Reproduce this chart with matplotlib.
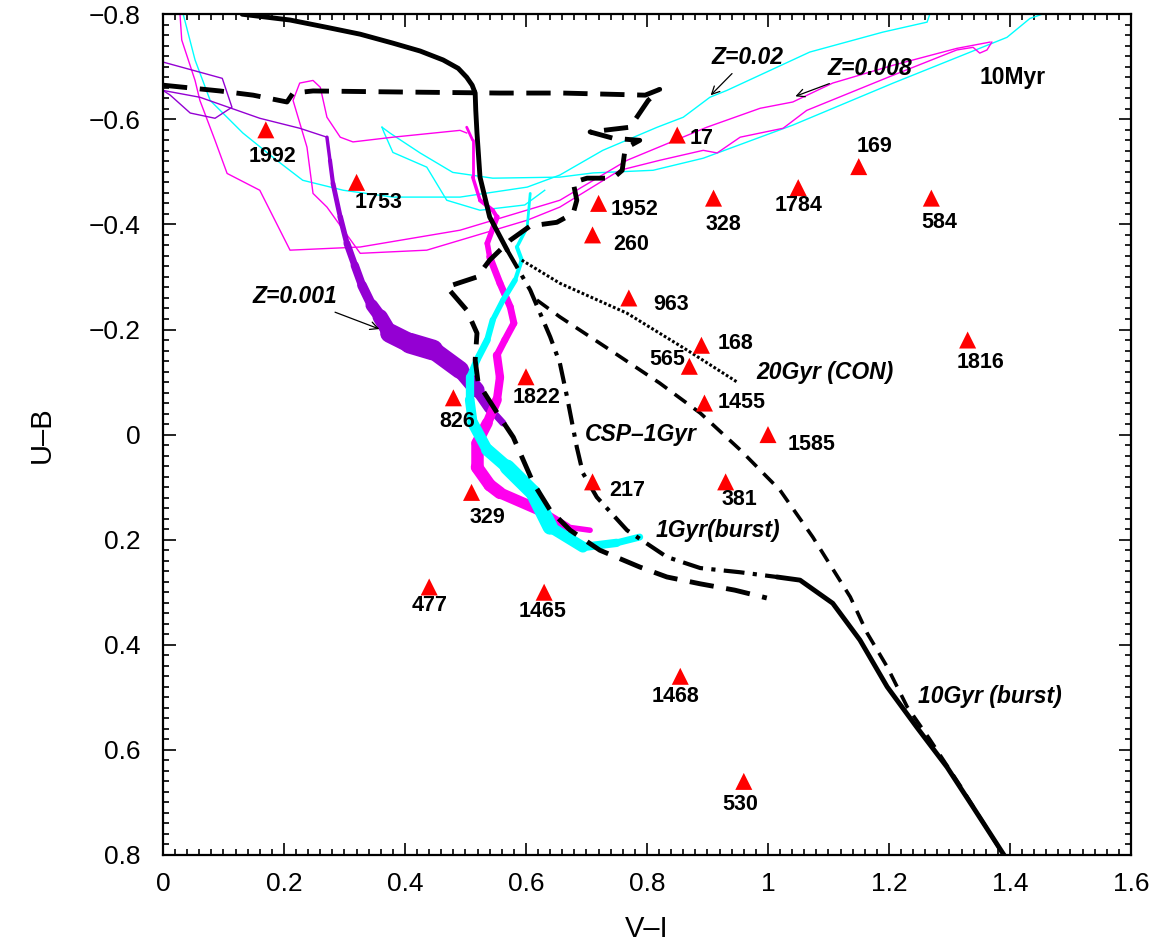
import numpy as np
import matplotlib
matplotlib.use('Agg')
import matplotlib.pyplot as plt
from matplotlib.collections import LineCollection
from matplotlib.ticker import MultipleLocator

plt.rcParams['font.family'] = ['Liberation Sans', 'DejaVu Sans']

# --- clusters (V-I, U-B) ---
cl_names = ['1992', '1753', '17', '1952', '260', '328', '1784', '169', '584',
            '963', '168', '565', '1455', '1585', '1816', '1822', '826', '217',
            '381', '329', '477', '1465', '1468', '530']
cl_vi = [0.17, 0.32, 0.85, 0.72, 0.71, 0.91, 1.05, 1.15, 1.27,
         0.77, 0.89, 0.87, 0.895, 1.0, 1.33, 0.60, 0.48, 0.71,
         0.93, 0.51, 0.44, 0.63, 0.855, 0.96]
cl_ub = [-0.58, -0.48, -0.57, -0.44, -0.38, -0.45, -0.47, -0.51, -0.45,
         -0.26, -0.17, -0.13, -0.06, 0.0, -0.18, -0.11, -0.07, 0.09,
         0.09, 0.11, 0.29, 0.30, 0.46, 0.66]
# label offsets in pixels (dx right, dy down)
lab_off = {'1992': (7, 27), '1753': (22, 20), '17': (24, 3), '1952': (36, 6),
           '260': (39, 10), '328': (10, 26), '1784': (0, 18), '169': (16, -20),
           '584': (8, 24), '963': (42, 7), '168': (34, -2), '565': (-22, -7),
           '1455': (37, -1), '1585': (44, 10), '1816': (13, 22), '1822': (11, 21),
           '826': (4, 24), '217': (35, 9), '381': (14, 18), '329': (16, 25),
           '477': (0, 19), '1465': (-2, 19), '1468': (-5, 20), '530': (-4, 23)}

# --- black model tracks ---
burst_top_x = [0.131, 0.210, 0.271, 0.326, 0.380, 0.425, 0.463, 0.488, 0.502, 0.511,
               0.516, 0.517, 0.519, 0.524, 0.540, 0.569]
burst_top_y = [-0.80, -0.789, -0.775, -0.762, -0.745, -0.730, -0.713, -0.697, -0.680,
               -0.665, -0.650, -0.617, -0.574, -0.490, -0.414, -0.351]
burst_mid_x = [0.569, 0.607, 0.640, 0.656, 0.668, 0.684, 0.694, 0.717, 0.767, 0.833,
               0.888, 0.954, 1.015]
burst_mid_y = [-0.351, -0.275, -0.186, -0.136, -0.071, 0.024, 0.073, 0.119, 0.182, 0.233,
               0.254, 0.262, 0.271]
burst_bot_x = [1.015, 1.053, 1.107, 1.152, 1.197, 1.246, 1.296, 1.339, 1.39]
burst_bot_y = [0.271, 0.277, 0.321, 0.391, 0.480, 0.557, 0.633, 0.709, 0.80]

g20_x = [0.618, 0.656, 0.739, 0.821, 0.888, 0.954, 1.020, 1.074, 1.136, 1.164,
         1.197, 1.230, 1.268, 1.317, 1.387]
g20_y = [-0.256, -0.224, -0.161, -0.098, -0.041, 0.029, 0.106, 0.195, 0.309, 0.378,
         0.442, 0.518, 0.581, 0.667, 0.796]

con_x = [0.593, 0.656, 0.767, 0.866, 0.949]
con_y = [-0.332, -0.288, -0.231, -0.161, -0.100]

csp_x = [0.0, 0.094, 0.149, 0.205, 0.215, 0.248, 0.392, 0.557, 0.661, 0.797, 0.821,
         0.802, 0.772, 0.706, 0.744, 0.788, 0.764, 0.759, 0.744, 0.701, 0.678, 0.684,
         0.678, 0.651, 0.607, 0.574, 0.540, 0.519, 0.469, 0.502, 0.519, 0.516, 0.521,
         0.557, 0.579, 0.612, 0.640, 0.673, 0.722, 0.788, 0.833, 0.888, 0.945, 0.998]
csp_y = [-0.665, -0.654, -0.646, -0.633, -0.650, -0.654, -0.652, -0.650, -0.650, -0.646,
         -0.657, -0.636, -0.585, -0.576, -0.564, -0.560, -0.545, -0.503, -0.488, -0.488,
         -0.480, -0.446, -0.421, -0.404, -0.397, -0.370, -0.332, -0.300, -0.281, -0.237,
         -0.193, -0.142, -0.098, -0.033, 0.005, 0.092, 0.144, 0.182, 0.220, 0.252, 0.271,
         0.284, 0.296, 0.311]

# --- thin coloured tracks ---
cy_up_x = [0.033, 0.053, 0.078, 0.132, 0.188, 0.231, 0.298, 0.380, 0.491, 0.602, 0.656,
           0.727, 0.817, 0.860, 0.904, 0.932, 1.069, 1.190, 1.263, 1.268]
cy_up_y = [-0.802, -0.713, -0.636, -0.574, -0.522, -0.484, -0.465, -0.452, -0.452, -0.471,
           -0.494, -0.541, -0.585, -0.604, -0.642, -0.655, -0.728, -0.766, -0.785, -0.802]
cy_lo_x = [0.362, 0.375, 0.425, 0.479, 0.545, 0.656, 0.711, 0.810, 0.893, 1.041, 1.207,
           1.395, 1.433, 1.458]
cy_lo_y = [-0.585, -0.574, -0.536, -0.499, -0.488, -0.490, -0.498, -0.503, -0.526, -0.589,
           -0.669, -0.756, -0.792, -0.802]
cy_mid_x = [0.362, 0.365, 0.380, 0.436, 0.469, 0.524, 0.598, 0.631]
cy_mid_y = [-0.585, -0.576, -0.537, -0.509, -0.446, -0.427, -0.437, -0.465]

mg_a_x = [0.028, 0.031, 0.053, 0.061, 0.086, 0.106, 0.160, 0.210, 0.326, 0.491, 0.656,
          0.767, 0.899, 0.987, 1.041, 1.107, 1.207, 1.312, 1.367]
mg_a_y = [-0.802, -0.751, -0.674, -0.636, -0.560, -0.497, -0.465, -0.351, -0.357, -0.389,
          -0.446, -0.522, -0.585, -0.621, -0.633, -0.669, -0.703, -0.735, -0.747]
mg_b_x = [0.502, 0.491, 0.380, 0.314, 0.293, 0.271, 0.260, 0.248, 0.226, 0.215, 0.238,
          0.248, 0.271, 0.326, 0.436, 0.602, 0.656, 0.755, 0.821, 0.893, 0.916, 0.954,
          1.025, 1.064, 1.207, 1.312, 1.339, 1.350, 1.362, 1.370]
mg_b_y = [-0.574, -0.579, -0.566, -0.557, -0.566, -0.604, -0.661, -0.674, -0.669, -0.636,
          -0.547, -0.459, -0.433, -0.345, -0.351, -0.408, -0.433, -0.503, -0.522, -0.541,
          -0.536, -0.566, -0.583, -0.617, -0.684, -0.732, -0.737, -0.726, -0.732, -0.747]

pu_a_x = [0.0, 0.098, 0.114, 0.086, 0.045, 0.012, 0.0]
pu_a_y = [-0.709, -0.678, -0.623, -0.602, -0.612, -0.646, -0.655]
pu_b_x = [0.0, 0.061, 0.160, 0.226, 0.271]
pu_b_y = [-0.655, -0.642, -0.602, -0.583, -0.566]

# --- thick (noisy) Z tracks ---
pu_band_x = [0.271, 0.276, 0.281, 0.293, 0.304, 0.317, 0.329, 0.345, 0.359, 0.375,
             0.408, 0.446, 0.491, 0.519, 0.540, 0.562]
pu_band_y = [-0.566, -0.522, -0.478, -0.414, -0.364, -0.322, -0.284, -0.246, -0.224,
             -0.193, -0.174, -0.161, -0.123, -0.085, -0.050, -0.022]
mg_band_x = [0.502, 0.512, 0.512, 0.524, 0.545, 0.552, 0.536, 0.540, 0.557, 0.574, 0.580,
             0.565, 0.552, 0.557, 0.552, 0.536, 0.519, 0.519, 0.540, 0.557, 0.623, 0.668,
             0.706]
mg_band_y = [-0.585, -0.560, -0.490, -0.446, -0.427, -0.414, -0.364, -0.338, -0.288,
             -0.243, -0.212, -0.180, -0.151, -0.109, -0.066, -0.022, 0.016, 0.062, 0.096,
             0.111, 0.144, 0.176, 0.182]
cy_band_x = [0.607, 0.602, 0.585, 0.593, 0.582, 0.562, 0.545, 0.536, 0.519, 0.507, 0.507,
             0.512, 0.536, 0.569, 0.612, 0.640, 0.694, 0.750, 0.788]
cy_band_y = [-0.459, -0.395, -0.357, -0.332, -0.294, -0.256, -0.218, -0.180, -0.142,
             -0.109, -0.066, -0.022, 0.029, 0.062, 0.111, 0.176, 0.214, 0.206, 0.195]

CY = '#00ffff'
MG = '#ff00ee'
PU = '#9400d3'


def band(ax, x, y, widths, color):
    pts = np.column_stack([x, y]).reshape(-1, 1, 2)
    segs = np.concatenate([pts[:-1], pts[1:]], axis=1)
    lc = LineCollection(segs, linewidths=widths, colors=color,
                        capstyle='round', joinstyle='round', zorder=3)
    ax.add_collection(lc)


def fmt(v, p):
    return ('%g' % round(v, 2)).replace('-', '\u2212')


fig = plt.figure(figsize=(11.6, 9.49), dpi=100)
ax = fig.add_axes([0.1405, 0.0991, 0.8345, 0.8859])

# thin lines
for xx, yy, c in [(cy_up_x, cy_up_y, CY), (cy_lo_x, cy_lo_y, CY), (cy_mid_x, cy_mid_y, CY),
                  (mg_a_x, mg_a_y, MG), (mg_b_x, mg_b_y, MG),
                  (pu_a_x, pu_a_y, PU), (pu_b_x, pu_b_y, PU)]:
    ax.plot(xx, yy, color=c, lw=1.0, zorder=2)

# thick bands
band(ax, pu_band_x, pu_band_y, [2.5, 3, 3.5, 4, 5, 6, 7, 9, 11, 14, 15, 13, 11, 8, 5], PU)
band(ax, mg_band_x, mg_band_y, [2, 2, 2.5, 3, 3, 4, 4, 5, 5, 5, 5, 5, 6, 6, 7, 8, 9, 9,
                                9, 8, 6, 4], MG)
band(ax, cy_band_x, cy_band_y, [2, 2.5, 3, 3, 4, 4, 4.5, 5, 5, 6, 7, 8, 9, 11, 11, 8,
                                6, 5], CY)

# black tracks
ax.plot(burst_top_x, burst_top_y, color='k', lw=3.5, solid_capstyle='round', zorder=4)
ax.plot(burst_mid_x, burst_mid_y, color='k', lw=3, dashes=(5, 2, 1, 2), zorder=4)
ax.plot(burst_bot_x, burst_bot_y, color='k', lw=3.5, solid_capstyle='round', zorder=4)
ax.plot(g20_x, g20_y, color='k', lw=2.6, dashes=(4, 2.6), zorder=4)
ax.plot(con_x, con_y, color='k', lw=2.2, dashes=(0.9, 0.7), zorder=4)
ax.plot(csp_x, csp_y, color='k', lw=3.5, dashes=(5, 2.6), zorder=4)

# clusters
ax.scatter(cl_vi, cl_ub, marker='^', s=150, color='#ff0000', edgecolors='none', zorder=6)
for n, xv, yv in zip(cl_names, cl_vi, cl_ub):
    dx, dy = lab_off[n]
    ax.annotate(n, (xv, yv), xytext=(dx * 0.72, -dy * 0.72), textcoords='offset points',
                ha='center', va='center', fontsize=15.5, fontweight='bold', zorder=7)

# text annotations
tkw = dict(fontsize=16.5, fontweight='bold', style='italic', ha='center', va='center')
arr = dict(arrowstyle='->', color='k', lw=0.9, mutation_scale=14)
ax.annotate('Z=0.02', xy=(0.902, -0.642), xytext=(0.967, -0.718), arrowprops=arr, **tkw)
ax.annotate('Z=0.008', xy=(1.041, -0.642), xytext=(1.169, -0.697), arrowprops=arr, **tkw)
ax.annotate('Z=0.001', xy=(0.362, -0.199), xytext=(0.218, -0.262), arrowprops=arr, **tkw)
ax.text(1.405, -0.680, '10Myr', fontsize=16.5, fontweight='bold', ha='center', va='center')
ax.text(1.094, -0.119, '20Gyr (CON)', **tkw)
ax.text(0.790, 0.0, 'CSP\u20131Gyr', **tkw)
ax.text(0.917, 0.182, '1Gyr(burst)', **tkw)
ax.text(1.367, 0.499, '10Gyr (burst)', **tkw)

ax.set_xlim(0, 1.6)
ax.set_ylim(0.8, -0.8)
ax.xaxis.set_major_locator(MultipleLocator(0.2))
ax.xaxis.set_minor_locator(MultipleLocator(0.02))
ax.yaxis.set_major_locator(MultipleLocator(0.2))
ax.yaxis.set_minor_locator(MultipleLocator(0.02))
ax.xaxis.set_major_formatter(plt.FuncFormatter(fmt))
ax.yaxis.set_major_formatter(plt.FuncFormatter(fmt))
ax.tick_params(which='both', direction='in', top=True, right=True, labelsize=19, width=1.2)
ax.tick_params(axis='x', which='major', length=9, pad=12)
ax.tick_params(axis='y', which='major', length=9, pad=16)
ax.tick_params(which='minor', length=4.5)
for s in ax.spines.values():
    s.set_linewidth(1.6)

ax.set_xlabel('V\u2013I', fontsize=21, labelpad=14)
ax.set_ylabel('U\u2013B', fontsize=21, labelpad=24)

fig.savefig('out.png', dpi=100)
